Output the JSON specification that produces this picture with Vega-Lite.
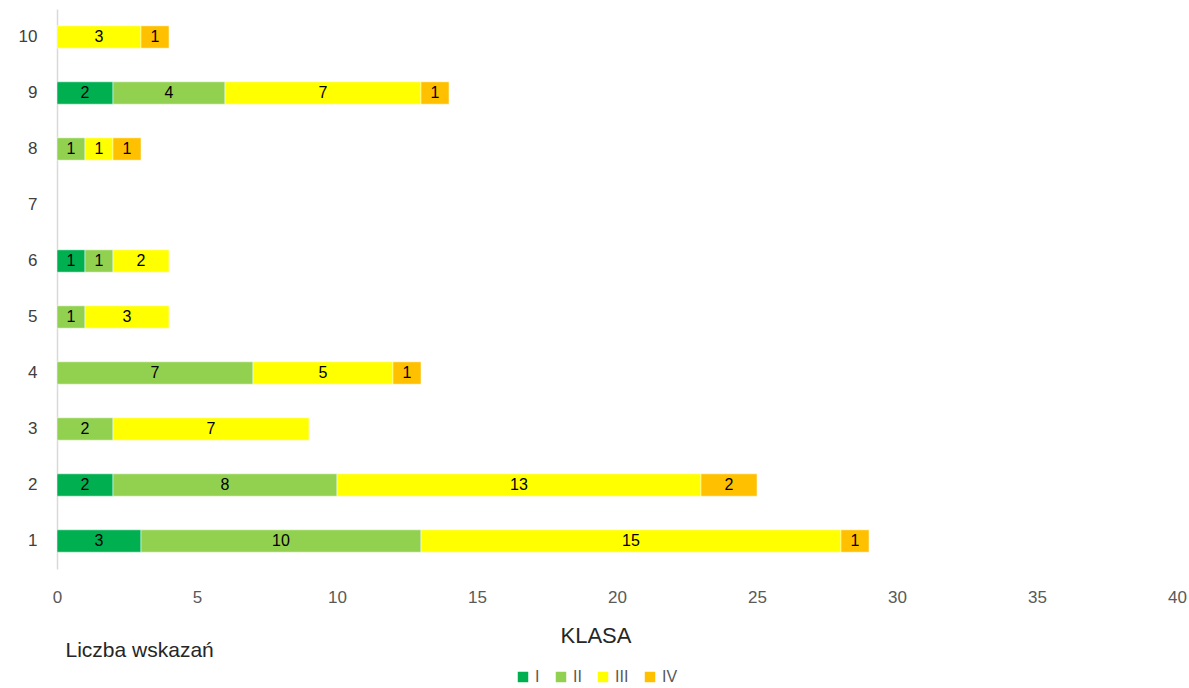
{
  "$schema": "https://vega.github.io/schema/vega-lite/v6.json",
  "width": 1120,
  "height": 560,
  "autosize": "none",
  "padding": {"left": 57, "top": 9, "right": 12, "bottom": 119},
  "background": "white",
  "config": {
    "font": "Liberation Sans",
    "view": {"stroke": null}
  },
  "data": {
    "values": [
      {"cat": "10", "klasa": "III", "v": 3}, {"cat": "10", "klasa": "IV", "v": 1},
      {"cat": "9", "klasa": "I", "v": 2}, {"cat": "9", "klasa": "II", "v": 4}, {"cat": "9", "klasa": "III", "v": 7}, {"cat": "9", "klasa": "IV", "v": 1},
      {"cat": "8", "klasa": "II", "v": 1}, {"cat": "8", "klasa": "III", "v": 1}, {"cat": "8", "klasa": "IV", "v": 1},
      {"cat": "6", "klasa": "I", "v": 1}, {"cat": "6", "klasa": "II", "v": 1}, {"cat": "6", "klasa": "III", "v": 2},
      {"cat": "5", "klasa": "II", "v": 1}, {"cat": "5", "klasa": "III", "v": 3},
      {"cat": "4", "klasa": "II", "v": 7}, {"cat": "4", "klasa": "III", "v": 5}, {"cat": "4", "klasa": "IV", "v": 1},
      {"cat": "3", "klasa": "II", "v": 2}, {"cat": "3", "klasa": "III", "v": 7},
      {"cat": "2", "klasa": "I", "v": 2}, {"cat": "2", "klasa": "II", "v": 8}, {"cat": "2", "klasa": "III", "v": 13}, {"cat": "2", "klasa": "IV", "v": 2},
      {"cat": "1", "klasa": "I", "v": 3}, {"cat": "1", "klasa": "II", "v": 10}, {"cat": "1", "klasa": "III", "v": 15}, {"cat": "1", "klasa": "IV", "v": 1}
    ]
  },
  "transform": [
    {"stack": "v", "groupby": ["cat"], "sort": [{"field": "klasa", "order": "ascending"}], "as": ["x0", "x1"]},
    {"calculate": "(datum.x0 + datum.x1) / 2", "as": "xm"}
  ],
  "encoding": {
    "y": {
      "field": "cat", "type": "nominal",
      "scale": {"domain": ["10", "9", "8", "7", "6", "5", "4", "3", "2", "1"], "paddingInner": 0.6, "paddingOuter": 0.3},
      "axis": {"title": null, "ticks": false, "domainColor": "#d9d9d9", "domainWidth": 1.5, "labelFontSize": 17, "labelColor": "#404040", "labelPadding": 20}
    }
  },
  "layer": [
    {
      "mark": {"type": "bar", "stroke": "white", "strokeWidth": 0.5},
      "encoding": {
        "x": {
          "field": "x0", "type": "quantitative",
          "scale": {"domain": [0, 40], "nice": false},
          "axis": {"values": [0, 5, 10, 15, 20, 25, 30, 35, 40], "grid": false, "domain": false, "ticks": false, "labelFlush": false, "labelFontSize": 17, "labelColor": "#595959", "labelPadding": 20,
            "title": "Liczba wskazań", "titleFontSize": 21, "titleFontWeight": "normal", "titleColor": "#262626", "titleAnchor": "start", "titleAlign": "left", "titleBaseline": "middle", "titleX": 8, "titleY": 81}
        },
        "x2": {"field": "x1"},
        "color": {
          "field": "klasa", "type": "nominal",
          "scale": {"domain": ["I", "II", "III", "IV"], "range": ["#00B050", "#92D050", "#FFFF00", "#FFC000"]},
          "legend": {
            "title": "KLASA", "orient": "none", "direction": "horizontal", "legendX": 458, "legendY": 617,
            "titleFontSize": 22, "titleFontWeight": "normal", "titleColor": "#262626", "titleAnchor": "middle", "titlePadding": 21,
            "symbolType": "square", "symbolSize": 110, "symbolStrokeWidth": 0, "labelFontSize": 16, "labelColor": "#595959", "labelOffset": 4, "columnPadding": 13
          }
        }
      }
    },
    {
      "mark": {"type": "text", "fontSize": 16, "color": "black", "baseline": "middle", "align": "center"},
      "encoding": {
        "x": {"field": "xm", "type": "quantitative"},
        "text": {"field": "v", "type": "quantitative"}
      }
    }
  ]
}
